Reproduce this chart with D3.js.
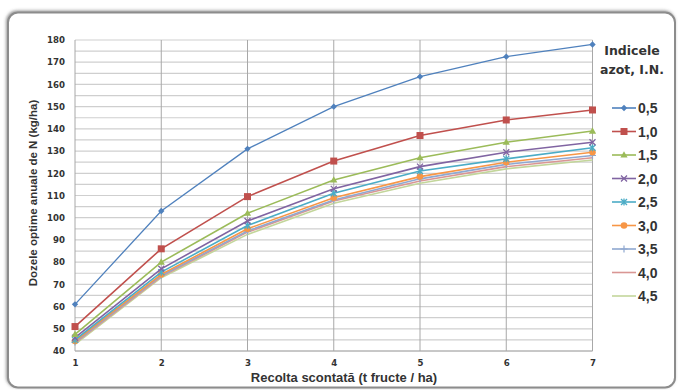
<!DOCTYPE html>
<html><head><meta charset="utf-8">
<script src="https://cdn.jsdelivr.net/npm/d3@7"></script>
<style>
html,body{margin:0;padding:0;background:#fff;}
svg{display:block;}
</style></head>
<body>
<script>
const xValues = [1, 2, 3, 4, 5, 6, 7];
const seriesNames = ["0,5", "1,0", "1,5", "2,0", "2,5", "3,0", "3,5", "4,0", "4,5"];
const s05 = [61, 103, 131, 150, 163.5, 172.5, 178];
const s10 = [51, 86, 109.5, 125.5, 137, 144, 148.5];
const s15 = [47.5, 80, 102, 117, 127, 134, 139];
const s20 = [46, 77, 98.5, 113, 123, 129.5, 134];
const s25 = [45, 75.5, 96.5, 111, 121, 126.5, 131.5];
const s30 = [44.5, 74.5, 95, 109, 118.5, 125, 129.5];
const s35 = [44, 74, 94, 108, 117.5, 124, 128];
const s40 = [43.5, 73.5, 93.5, 107.5, 116.5, 123, 127];
const s45 = [43, 73, 92.5, 106.5, 115.5, 122, 126];
const seriesValues = [s05, s10, s15, s20, s25, s30, s35, s40, s45];
const yTicks = [40, 50, 60, 70, 80, 90, 100, 110, 120, 130, 140, 150, 160, 170, 180];
const yTitle = "Dozele optime anuale de N (kg/ha)";
const xTitle = "Recolta scontată (t fructe / ha)";
const legendTitle = ["Indicele", "azot, I.N."];

const colors = ["#4F81BD", "#C0504D", "#9BBB59", "#8064A2", "#4BACC6", "#F79646", "#8FA8D0", "#D99694", "#C3D69B"];
const markers = ["diamond", "square", "triangle", "x", "star", "circle", "plus", "none", "none"];

const W = 678, H = 390;
const svg = d3.select("body").append("svg").attr("width", W).attr("height", H);
const defs = svg.append("defs");
const f = defs.append("filter").attr("id", "sh").attr("x", "-5%").attr("y", "-5%").attr("width", "110%").attr("height", "110%");
f.append("feDropShadow").attr("dx", -1).attr("dy", -1).attr("stdDeviation", 1.5).attr("flood-color", "#555").attr("flood-opacity", 0.6);

svg.append("rect").attr("x", 8).attr("y", 12.5).attr("width", 667).attr("height", 375)
  .attr("rx", 10).attr("fill", "#fff").attr("stroke", "#8c8c8c").attr("stroke-width", 2).attr("filter", "url(#sh)");

const x = d3.scaleLinear().domain([1, 7]).range([75, 592.5]);
const y = d3.scaleLinear().domain([40, 180]).range([351, 40]);

const g = svg.append("g");
// horizontal gridlines every 5
const hLines = d3.range(40, 181, 5);
g.selectAll(".hg").data(hLines).join("line")
  .attr("x1", x(1)).attr("x2", x(7)).attr("y1", d => y(d)).attr("y2", d => y(d))
  .attr("stroke", "#cfcfcf").attr("stroke-width", 1.2);
g.selectAll(".vg").data(xValues).join("line")
  .attr("x1", d => x(d)).attr("x2", d => x(d)).attr("y1", y(180)).attr("y2", y(40))
  .attr("stroke", "#a8a8a8").attr("stroke-width", 1);
// x axis line
g.append("line").attr("x1", x(1)).attr("x2", x(7)).attr("y1", y(40)).attr("y2", y(40)).attr("stroke", "#a8a8a8");

// axes via d3
const yAxis = d3.axisLeft(y).tickValues(yTicks).tickSize(0).tickPadding(10);
const ya = svg.append("g").attr("transform", `translate(${x(1)},0)`).call(yAxis);
ya.select(".domain").remove();
ya.selectAll("text").attr("font-family", "DejaVu Sans").attr("font-weight", "bold").attr("font-size", 8.6).attr("fill", "#333");

const xAxis = d3.axisBottom(x).tickValues(xValues).tickFormat(d3.format("d")).tickSize(0).tickPadding(9);
const xa = svg.append("g").attr("transform", `translate(0,${y(40)})`).call(xAxis);
xa.select(".domain").remove();
xa.selectAll("text").attr("font-family", "DejaVu Sans").attr("font-weight", "bold").attr("font-size", 8.6).attr("fill", "#333");

svg.append("text").attr("x", 344).attr("y", 382).attr("text-anchor", "middle")
  .attr("font-family", "Liberation Sans").attr("font-weight", "bold").attr("font-size", 13).attr("fill", "#333").text(xTitle);
svg.append("text").attr("transform", "translate(37,193) rotate(-90)").attr("text-anchor", "middle")
  .attr("font-family", "Liberation Sans").attr("font-weight", "bold").attr("font-size", 11.5).attr("fill", "#333").text(yTitle);

function drawMarker(sel, type, color, cx, cy) {
  const s = sel.append("g").attr("transform", `translate(${cx},${cy})`);
  if (type === "diamond") s.append("path").attr("d", "M0,-3.2L3.2,0L0,3.2L-3.2,0Z").attr("fill", color);
  else if (type === "square") s.append("rect").attr("x", -3.5).attr("y", -3.5).attr("width", 7).attr("height", 7).attr("fill", color);
  else if (type === "triangle") s.append("path").attr("d", "M0,-3.8L3.6,2.6L-3.6,2.6Z").attr("fill", color);
  else if (type === "x") s.append("path").attr("d", "M-3,-3L3,3M-3,3L3,-3").attr("stroke", color).attr("stroke-width", 1.3);
  else if (type === "star") s.append("path").attr("d", "M-3,-3L3,3M-3,3L3,-3M0,-3.5L0,3.5").attr("stroke", color).attr("stroke-width", 1.3);
  else if (type === "circle") s.append("circle").attr("r", 3.3).attr("fill", color);
  else if (type === "plus") s.append("path").attr("d", "M-3.5,0L3.5,0M0,-3.5L0,3.5").attr("stroke", color).attr("stroke-width", 1.2);
}

const line = d3.line().x((d, i) => x(xValues[i])).y(d => y(d));
const plot = svg.append("g");
for (let k = seriesValues.length - 1; k >= 0; k--) {
  plot.append("path").datum(seriesValues[k]).attr("d", line).attr("fill", "none")
    .attr("stroke", colors[k]).attr("stroke-width", k === 0 ? 1.3 : 1.6);
  seriesValues[k].forEach((v, i) => drawMarker(plot, markers[k], colors[k], x(xValues[i]), y(v)));
}

// legend
const lg = svg.append("g");
lg.selectAll(".lt").data(legendTitle).join("text")
  .attr("x", 632).attr("y", (d, i) => 55 + i * 19).attr("text-anchor", "middle")
  .attr("font-family", "DejaVu Sans").attr("font-weight", "bold").attr("font-size", 12.5).attr("fill", "#333").text(d => d);
seriesNames.forEach((n, k) => {
  const yy = 108 + k * 23.5;
  lg.append("line").attr("x1", 612).attr("x2", 636).attr("y1", yy).attr("y2", yy).attr("stroke", colors[k]).attr("stroke-width", 1.6);
  drawMarker(lg, markers[k], colors[k], 624, yy);
  lg.append("text").attr("x", 638).attr("y", yy + 5).attr("font-family", "Liberation Sans").attr("font-weight", "bold")
    .attr("font-size", 14).attr("fill", "#333").text(n);
});
</script>
</body></html>
